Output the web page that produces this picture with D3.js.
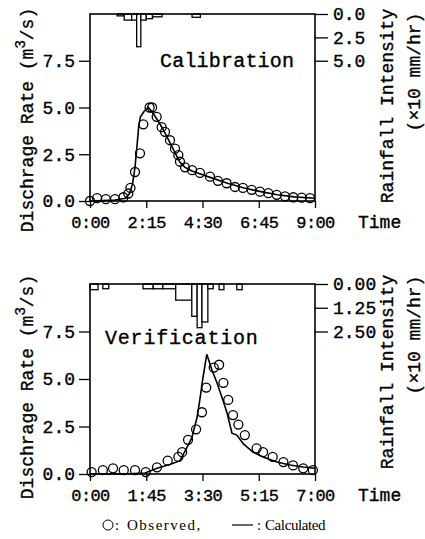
<!DOCTYPE html>
<html lang="ja">
<head>
    <meta charset="UTF-8">
    <title></title>
    <script src="https://d3js.org/d3.v7.min.js"></script>
    <style>
        body { margin: 0; background: #fff; }
        svg text { font-family: "Liberation Mono", monospace; fill: #000; }
        svg text.mono { stroke: #000; stroke-width: 0.35px; }
    </style>
</head>
<body>
    <div id="container"></div>
    <script>
        // ---- datos (tiempo en minutos) ----
        // Calibration
        var calObsT = [0,17,38,60,80,92,97,108,120,128,143,149,160,172,180,192,204,212,216,228,245,264,288,307,328,348,367,388,408,428,448,468,488,508,528]
        var calObsQ = [0,0.15,0.1,0.1,0.2,0.4,0.7,1.55,2.55,4.1,5.0,5.0,4.5,3.95,3.7,3.25,2.8,2.45,2.1,1.8,1.65,1.5,1.3,1.08,0.95,0.75,0.7,0.6,0.5,0.42,0.33,0.25,0.2,0.18,0.15]
        var calSimT = [0,30,60,85,95,102,108,113,117,121,130,140,148,160,175,190,205,215,228,245,265,290,330,370,410,450,490,540]
        var calSimQ = [0,0.02,0.05,0.15,0.4,0.9,1.8,3.0,4.0,4.5,4.8,5.0,4.8,4.4,3.85,3.2,2.55,2.1,1.8,1.6,1.45,1.25,0.95,0.7,0.5,0.33,0.22,0.15]
        var calRainT0 = [65,82,100,112,122,135,150,245]
        var calRainT1 = [82,100,112,122,135,150,173,265]
        var calRainI = [0.2,0.65,0.65,3.5,0.65,0.5,0.3,0.35]
        var calXTicks = [0,135,270,405,540]
        var calXLabels = ["0:00","2:15","4:30","6:45","9:00"]
        var calRainTicks = [0,2.5,5]
        var calRainLabels = ["0.0","2.5","5.0"]

        // Verification
        var verObsT = [3,24,43,63,84,104,125,145,165,172,183,198,209,217,231,241,249,258,267,277,289,311,323,341,361,379,398,416]
        var verObsQ = [0.1,0.2,0.3,0.2,0.2,0.1,0.35,0.7,0.9,1.15,1.8,2.35,3.25,4.55,5.6,5.75,4.8,3.9,3.1,2.6,2.05,1.35,1.15,0.9,0.63,0.45,0.3,0.2]
        var verSimT = [0,60,103,125,149,168,181,190,200,205,211,218,228,237,248,256,265,274,286,304,323,349,373,398,420]
        var verSimQ = [0,0,0.05,0.3,0.5,0.7,1.4,1.9,3.0,3.9,5.1,6.3,5.45,4.8,3.9,3.2,2.15,2.05,1.6,1.15,0.9,0.63,0.47,0.37,0.3]
        var verRainT0 = [0,24,99,118,136,160,190,200,209,220,241,274]
        var verRainT1 = [15,35,118,136,160,190,200,209,220,230,250,284]
        var verRainI = [0.3,0.25,0.25,0.25,0.25,0.85,1.7,2.3,2.0,0.25,0.3,0.3]
        var verXTicks = [0,105,210,315,420]
        var verXLabels = ["0:00","1:45","3:30","5:15","7:00"]
        var verRainTicks = [0,1.25,2.5]
        var verRainLabels = ["0.00","1.25","2.50"]

        var qTicks = [0,2.5,5,7.5]
        var qLabels = ["0.0","2.5","5.0","7.5"]

        var width = 425
        var height = 539

        var svg = d3.select("div#container")
            .append("svg")
            .attr("width", width)
            .attr("height", height)

        function panel(p) {
            var x = d3.scaleLinear().domain([0, p.tMax]).range([90, 315])
            var y = d3.scaleLinear().domain([0, 10]).range([p.bottom, p.top])
            var r = d3.scaleLinear().domain([0, p.rMax]).range([p.top, p.bottom])

            var g = svg.append("g")

            // barras de lluvia colgando del borde superior
            g.selectAll("rect.rain")
                .data(p.rainI)
                .enter()
                .append("rect")
                .attr("class", "rain")
                .attr("x", function (d, i) { return x(p.rainT0[i]) })
                .attr("width", function (d, i) { return x(p.rainT1[i]) - x(p.rainT0[i]) })
                .attr("y", r(0))
                .attr("height", function (d) { return r(d) - r(0) })
                .attr("fill", "#fff")
                .attr("stroke", "#000")
                .attr("stroke-width", 1.3)

            // caudal calculado
            var line = d3.line()
                .x(function (d, i) { return x(p.simT[i]) })
                .y(function (d) { return y(d) })
            g.append("path")
                .datum(p.simQ)
                .attr("d", line)
                .attr("fill", "none")
                .attr("stroke", "#000")
                .attr("stroke-width", 1.6)

            // caudal observado
            g.selectAll("circle.obs")
                .data(p.obsQ)
                .enter()
                .append("circle")
                .attr("class", "obs")
                .attr("cx", function (d, i) { return x(p.obsT[i]) })
                .attr("cy", function (d) { return y(d) })
                .attr("r", 4.5)
                .attr("fill", "none")
                .attr("stroke", "#000")
                .attr("stroke-width", 1.3)

            // marco
            g.append("rect")
                .attr("x", 90).attr("y", p.top)
                .attr("width", 225).attr("height", p.bottom - p.top)
                .attr("fill", "none")
                .attr("stroke", "#000")
                .attr("stroke-width", 1.6)

            // ejes
            var xAxis = d3.axisBottom(x)
                .tickValues(p.xTicks)
                .tickFormat(function (d, i) { return p.xLabels[i] })
                .tickSize(7).tickPadding(8)
            var yAxis = d3.axisLeft(y)
                .tickValues(qTicks)
                .tickFormat(function (d, i) { return qLabels[i] })
                .tickSize(11).tickPadding(4)
            var rAxis = d3.axisRight(r)
                .tickValues(p.rainTicks)
                .tickFormat(function (d, i) { return p.rainLabels[i] })
                .tickSize(13).tickPadding(5)

            var gx = g.append("g").attr("transform", "translate(0," + p.bottom + ")").call(xAxis)
            var gy = g.append("g").attr("transform", "translate(90,0)").call(yAxis)
            var gr = g.append("g").attr("transform", "translate(315,0)").call(rAxis)
            gx.selectAll("text").style("font-size", "17px").style("letter-spacing", "-0.6px")
            gy.selectAll("text").style("font-size", "18px")
            gr.selectAll("text").style("font-size", "18px")
            ;[gx, gy, gr].forEach(function (a) {
                a.select(".domain").remove()
                a.selectAll("line").attr("stroke-width", 1.3)
                a.selectAll("text").attr("class", "mono")
                a.attr("font-family", null).attr("font-size", null)
            })

            g.append("text")
                .attr("class", "mono")
                .attr("x", 358).attr("y", p.bottom + 27)
                .style("font-size", "18px")
                .text("Time")

            g.append("text")
                .attr("class", "mono")
                .attr("x", p.labelX).attr("y", p.labelY)
                .style("font-size", "20px")
                .style("letter-spacing", p.labelSpacing + "px")
                .text(p.label)

            // títulos de los ejes (rotados)
            var yt = g.append("text")
                .attr("class", "mono")
                .attr("transform", "translate(33," + p.yTitleC + ") rotate(-90)")
                .style("text-anchor", "middle")
                .style("font-size", "18px")
            yt.append("tspan").text("Dischrage Rate (m")
            yt.append("tspan").attr("dy", -8).style("font-size", "14px").text("3")
            yt.append("tspan").attr("dy", 8).text("/s)")

            g.append("text")
                .attr("class", "mono")
                .attr("transform", "translate(393," + p.rTitleC + ") rotate(-90)")
                .style("text-anchor", "middle")
                .style("font-size", "18px")
                .text("Rainfall Intensity")
            g.append("text")
                .attr("class", "mono")
                .attr("transform", "translate(420," + p.rTitleC2 + ") rotate(-90)")
                .style("text-anchor", "middle")
                .style("font-size", "18px")
                .text("(×10 mm/hr)")
        }

        panel({
            top: 14, bottom: 201, tMax: 540, rMax: 20,
            obsT: calObsT, obsQ: calObsQ, simT: calSimT, simQ: calSimQ,
            rainT0: calRainT0, rainT1: calRainT1, rainI: calRainI,
            xTicks: calXTicks, xLabels: calXLabels,
            rainTicks: calRainTicks, rainLabels: calRainLabels,
            label: "Calibration", labelX: 160, labelY: 67, labelSpacing: 0.2,
            yTitleC: 120, rTitleC: 106, rTitleC2: 72
        })

        panel({
            top: 284, bottom: 474, tMax: 420, rMax: 10,
            obsT: verObsT, obsQ: verObsQ, simT: verSimT, simQ: verSimQ,
            rainT0: verRainT0, rainT1: verRainT1, rainI: verRainI,
            xTicks: verXTicks, xLabels: verXLabels,
            rainTicks: verRainTicks, rainLabels: verRainLabels,
            label: "Verification", labelX: 105, labelY: 344, labelSpacing: 0.8,
            yTitleC: 387, rTitleC: 372, rTitleC2: 335
        })

        // leyenda
        var serif = "'Liberation Serif', serif"
        var leg = svg.append("g")
        leg.append("circle").attr("cx", 108).attr("cy", 525).attr("r", 5)
            .attr("fill", "none").attr("stroke", "#000").attr("stroke-width", 1)
        leg.append("text").attr("x", 115).attr("y", 530)
            .style("font-family", serif).style("font-size", "15px")
            .text(":")
        leg.append("text").attr("x", 127).attr("y", 530)
            .style("font-family", serif).style("font-size", "15px")
            .style("letter-spacing", "1.5px")
            .text("Observed,")
        leg.append("line").attr("x1", 232).attr("x2", 253).attr("y1", 525).attr("y2", 525)
            .attr("stroke", "#000").attr("stroke-width", 1.2)
        leg.append("text").attr("x", 257).attr("y", 530)
            .style("font-family", serif).style("font-size", "15px")
            .text(":")
        leg.append("text").attr("x", 265).attr("y", 530)
            .style("font-family", serif).style("font-size", "15px")
            .style("letter-spacing", "-0.4px")
            .text("Calculated")
    </script>
</body>
</html>
